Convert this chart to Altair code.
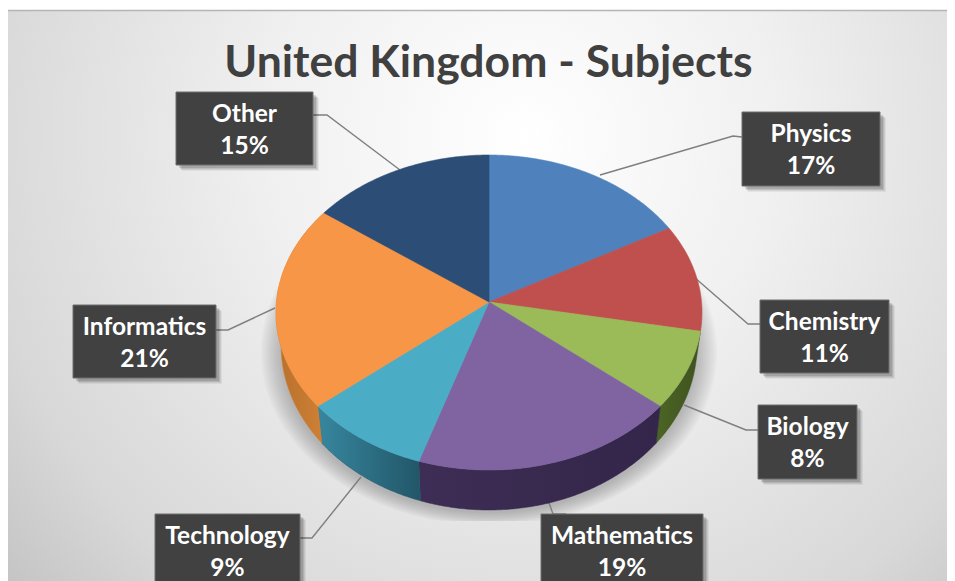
import math
import altair as alt
import pandas as pd

# ---- chart values ----
TITLE = "United Kingdom - Subjects"
categories = ["Physics", "Chemistry", "Biology", "Mathematics", "Technology", "Informatics", "Other"]
shares = [17, 11, 8, 19, 9, 21, 15]
top_colors = ["#4f81bd", "#c0504d", "#9bbb59", "#8064a2", "#4bacc6", "#f79646", "#2c4d75"]

# ---- layout (picture pixels) ----
L, T, R, B = 8, 8, 947, 581
W, H = R - L, B - T
APEX = (489, 302)
TOP_E = (489, 312.5, 213, 157.5)
LOW_E = (489, 345, 208, 165)
box_edges = {
    "Physics": (742, 880, 112, 186),
    "Chemistry": (760, 889, 300, 373),
    "Biology": (758, 857, 405, 479),
    "Mathematics": (541, 703, 514, 588),
    "Technology": (155, 300, 514, 588),
    "Informatics": (73, 216, 305, 378),
    "Other": (176, 313, 92, 165),
}
leaders = {
    "Physics": [(742, 137), (733, 136), (600, 175)],
    "Chemistry": [(760, 324), (748, 324), (694, 277)],
    "Biology": [(758, 430), (746, 430), (684, 405)],
    "Mathematics": [(566, 514), (553, 514), (548, 500)],
    "Technology": [(300, 538), (312, 538), (361, 477)],
    "Informatics": [(216, 330), (228, 330), (275, 308)],
    "Other": [(313, 115), (327, 115), (400, 170)],
}
side_gradients = {
    "Biology": ("#4c6524", "#3f5220"),
    "Mathematics": ("#3e2d55", "#33264a"),
    "Technology": ("#37879f", "#225668"),
    "Informatics": ("#b8702c", "#d08236"),
}

FONT = "Lato"
xs = alt.Scale(domain=[L, R], range=[0, W])
ys = alt.Scale(domain=[T, B], range=[0, H])
X = lambda f="x": alt.X(f + ":Q", scale=xs, axis=None)
Y = lambda f="y": alt.Y(f + ":Q", scale=ys, axis=None)


def view_angle(share_sum):
    a = math.radians(share_sum * 3.6)
    return a - math.radians(4) * math.sin(a)


def rim(ell, a):
    cx, cy, rx, ry = ell
    return cx + rx * math.sin(a), cy - ry * math.cos(a)


def sweep(start, end):
    n = max(2, int(abs(end - start) * 3.6 * 2) + 1)
    return [view_angle(start + (end - start) * i / (n - 1)) for i in range(n)]


spans = []
c = 0
for s in shares:
    spans.append((c, c + s))
    c += s

# ---- background ----
background = alt.Chart(pd.DataFrame({"k": [0]})).mark_rect(
    fill={
        "gradient": "radial", "x1": 0.55, "y1": 0.33, "r1": 0.0,
        "x2": 0.55, "y2": 0.33, "r2": 0.78,
        "stops": [
            {"offset": 0.0, "color": "#ffffff"},
            {"offset": 0.35, "color": "#f0f0f0"},
            {"offset": 0.75, "color": "#d8d8d8"},
            {"offset": 1.0, "color": "#bdbdbd"},
        ],
    }
).encode(x=alt.value(-1), x2=alt.value(W), y=alt.value(3), y2=alt.value(H))
frame = alt.Chart(pd.DataFrame({"k": [0]})).mark_rule(color="#b5b5b5", strokeWidth=1.5).encode(
    x=alt.value(-1), x2=alt.value(W), y=alt.value(2.5))

layers = [background, frame]

# ---- soft pie shadow ----
for grow in range(2, 24, 2):
    pts = []
    for i in range(121):
        a = 2 * math.pi * i / 120
        pts.append({"x": 489 + (206 + grow) * math.sin(a),
                    "y": min(521, 352 - (160 + grow * 0.6) * math.cos(a)), "i": i})
    layers.append(alt.Chart(pd.DataFrame(pts)).mark_line(
        fill="#5a5a5a", stroke=None, fillOpacity=0.035, strokeWidth=0
    ).encode(x=X(), y=Y(), order="i:Q"))

# ---- leader lines ----
rows = []
for name in categories:
    for i, (x, y) in enumerate(leaders[name]):
        rows.append({"name": name, "x": x, "y": y, "i": i})
layers.append(alt.Chart(pd.DataFrame(rows)).mark_line(color="#7f7f7f", strokeWidth=1.4).encode(
    x=X(), y=Y(), detail="name:N", order="i:Q"))

# ---- pie side walls ----
for name, (s, e) in zip(categories, spans):
    if name not in side_gradients:
        continue
    c1, c2 = side_gradients[name]
    angles = sweep(s, e)
    pts = [rim(TOP_E, a) for a in angles] + [rim(LOW_E, a) for a in reversed(angles)]
    pts.append(pts[0])
    df = pd.DataFrame([{"x": p[0], "y": p[1], "i": i} for i, p in enumerate(pts)])
    layers.append(alt.Chart(df).mark_line(
        fill={"gradient": "linear", "x1": 0, "y1": 0, "x2": 1, "y2": 0,
              "stops": [{"offset": 0, "color": c1}, {"offset": 1, "color": c2}]},
        stroke=c2, strokeWidth=0.5,
    ).encode(x=X(), y=Y(), order="i:Q"))

# ---- pie top slices ----
rows = []
for name, (s, e) in zip(categories, spans):
    pts = [APEX] + [rim(TOP_E, a) for a in sweep(s, e)] + [APEX]
    for i, p in enumerate(pts):
        rows.append({"name": name, "x": p[0], "y": p[1], "i": i})
color_scale = alt.Scale(domain=categories, range=top_colors)
layers.append(alt.Chart(pd.DataFrame(rows)).mark_line(strokeWidth=0.6).encode(
    x=X(), y=Y(),
    fill=alt.Fill("name:N", scale=color_scale, legend=None),
    stroke=alt.Stroke("name:N", scale=color_scale, legend=None),
    detail="name:N", order="i:Q"))

# ---- label boxes ----
box_df = pd.DataFrame([
    {"name": n, "x": b[0], "x2": b[1], "y": b[2], "y2": b[3]} for n, b in box_edges.items()
])
for off, op in [(6, 0.05), (5, 0.07), (4, 0.09), (3, 0.12)]:
    sh = box_df.assign(x=box_df.x + off, x2=box_df.x2 + off, y=box_df.y + off, y2=box_df.y2 + off)
    layers.append(alt.Chart(sh).mark_rect(color="#000000", opacity=op).encode(
        x=X(), x2="x2:Q", y=Y(), y2="y2:Q"))
layers.append(alt.Chart(box_df).mark_rect(fill="#414141", stroke="#6e6e6e", strokeWidth=1).encode(
    x=X(), x2="x2:Q", y=Y(), y2="y2:Q"))

# ---- texts ----
rows = []
for name, share in zip(categories, shares):
    x0, x1, y0, _ = box_edges[name]
    rows.append({"t": name, "x": (x0 + x1) / 2, "y": y0 + 22.5})
    rows.append({"t": f"{share}%", "x": (x0 + x1) / 2, "y": y0 + 55})
layers.append(alt.Chart(pd.DataFrame(rows)).mark_text(
    font=FONT, fontWeight="bold", fontSize=24.5, color="#ffffff", align="center", baseline="middle"
).encode(x=X(), y=Y(), text="t:N"))

layers.append(alt.Chart(pd.DataFrame({"t": [TITLE], "x": [488.5], "y": [64]})).mark_text(
    font=FONT, fontWeight="bold", fontSize=44.5, color="#404040", align="center", baseline="middle"
).encode(x=X(), y=Y(), text="t:N"))

chart = alt.layer(*layers).properties(
    width=W, height=H, padding=0,
    autosize=alt.AutoSizeParams(type="none", contains="content"),
).configure_view(stroke=None)

chart.save("out.html", embed_options={"renderer": "svg", "actions": False})
